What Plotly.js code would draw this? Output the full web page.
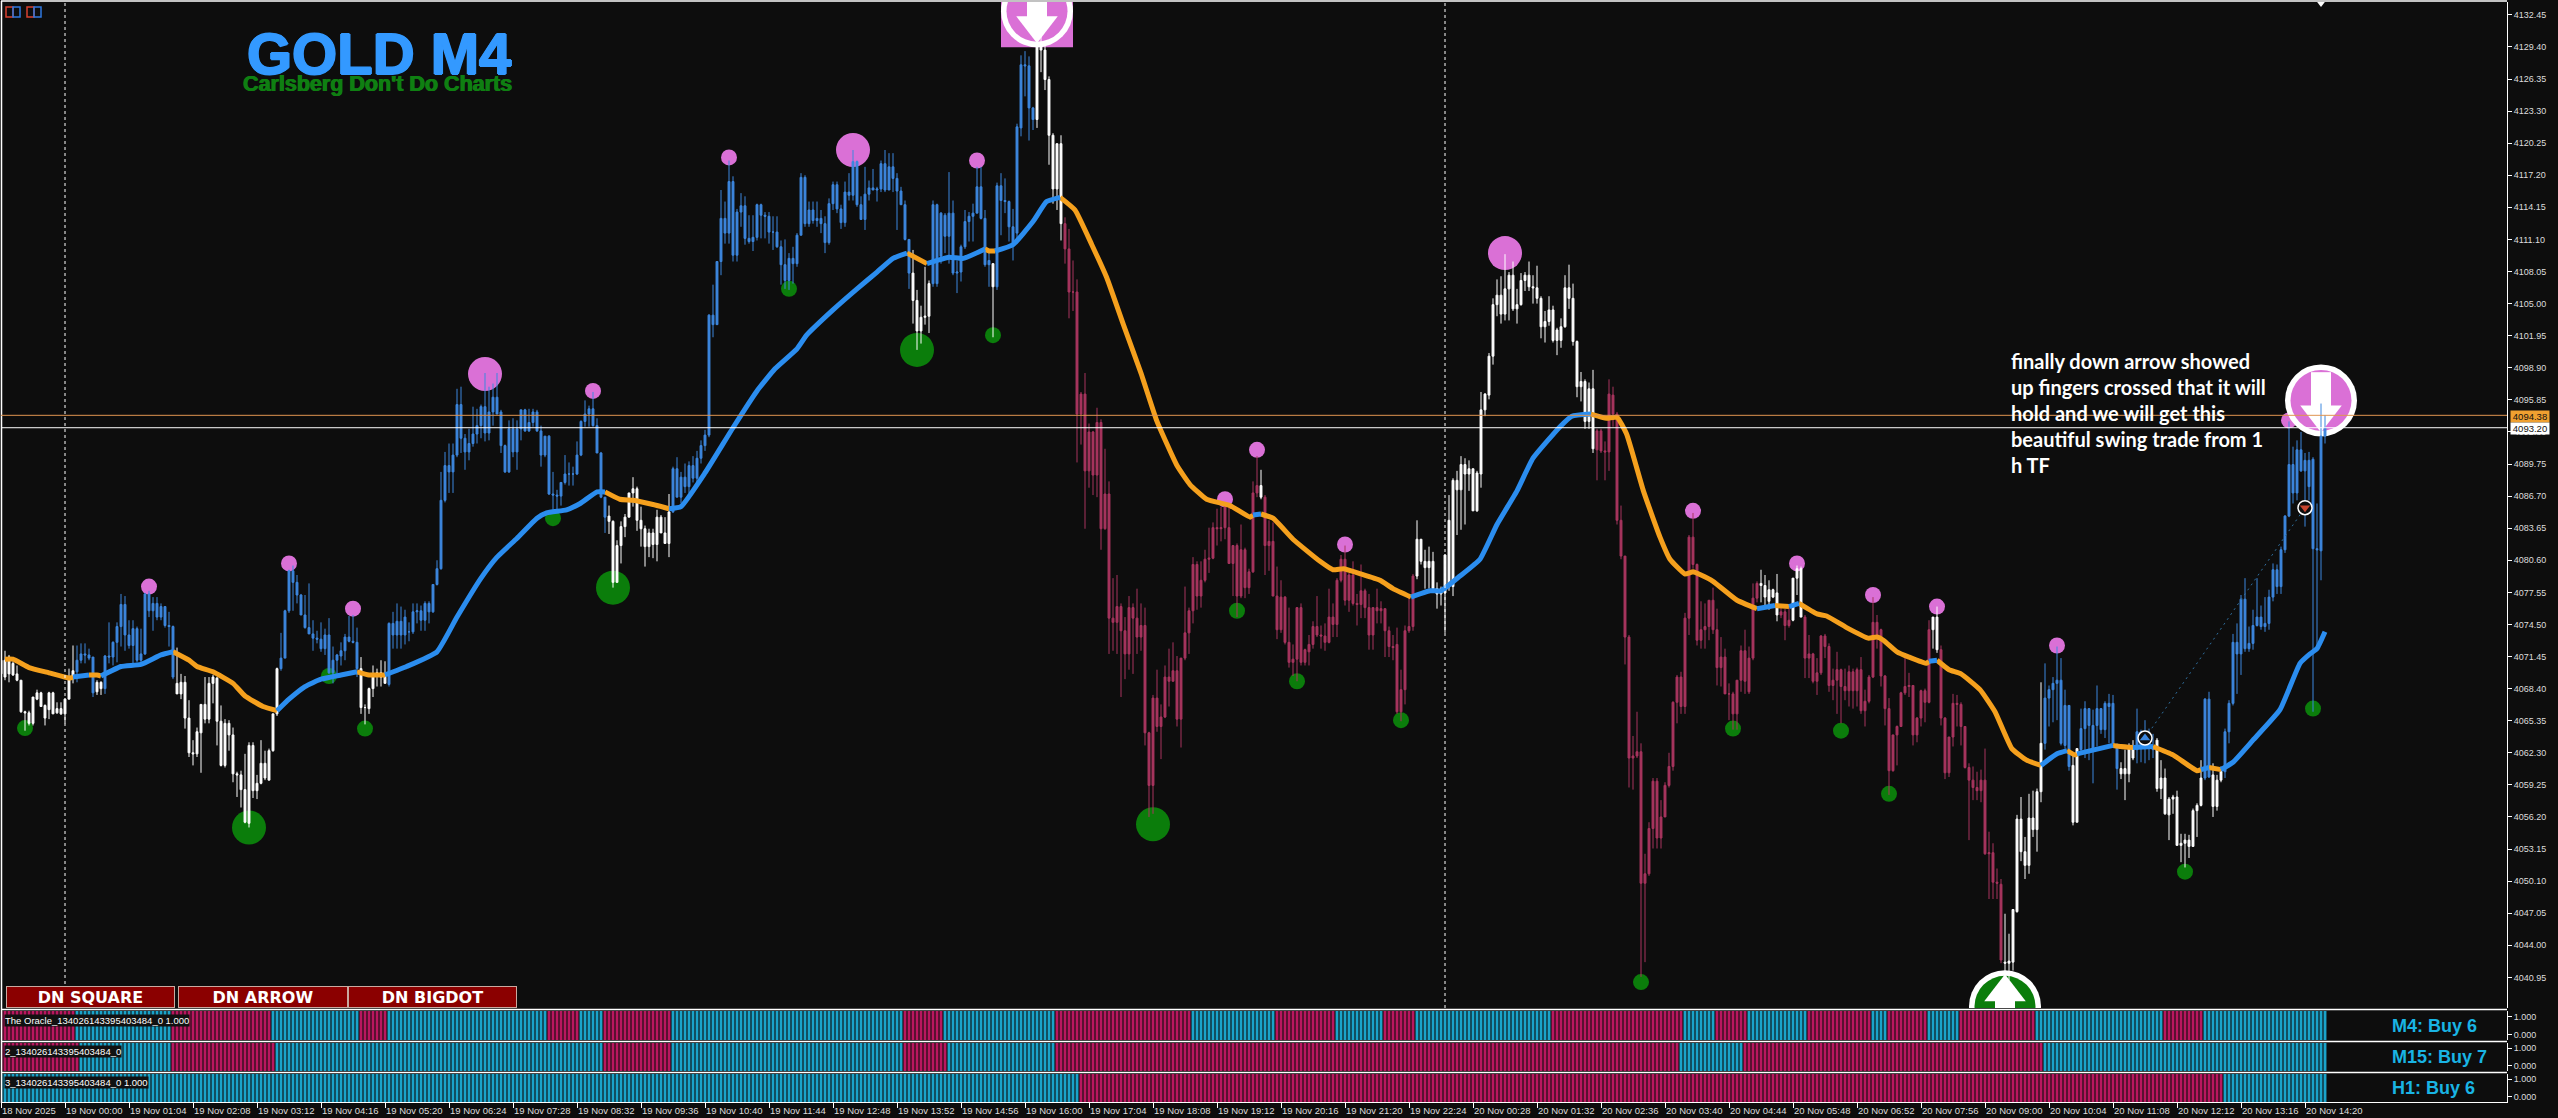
<!DOCTYPE html>
<html><head><meta charset="utf-8">
<script src="https://cdn.plot.ly/plotly-3.0.1.min.js"></script>
<style>html,body{margin:0;padding:0;background:#0d0d0d;overflow:hidden}</style>
</head><body><div id="chart" style="width:2558px;height:1118px"></div>
<script>
// ---- candle values: price minus priceBase, one line = 10 bars ----
const priceBase = 4000;
const openVals = [
69.8,71.1,69.8,70.8,69.8,69.2,66.2,66.1,65.1,67.4,
68.0,66.8,66.4,68.0,66.1,66.5,66.0,67.4,69.6,70.0,
71.1,71.7,71.6,71.4,68.1,69.0,68.4,71.5,71.4,72.8,
74.3,76.4,73.5,72.5,74.1,71.1,71.7,77.4,75.8,76.5,
75.2,76.2,74.4,74.3,68.9,67.9,69.0,65.6,62.3,62.2,
64.2,66.9,65.5,68.9,69.4,65.3,61.1,65.1,64.0,60.3,
60.2,58.8,55.6,63.0,58.7,59.4,61.3,59.7,62.5,66.0,
70.3,71.3,75.8,79.6,78.5,77.3,75.4,74.2,73.6,73.2,
73.1,72.2,73.5,69.9,71.1,71.5,72.0,73.3,72.9,72.8,
70.3,66.6,66.5,68.4,69.6,69.9,69.5,68.8,74.6,73.5,
74.8,73.5,73.8,73.8,75.7,75.8,74.9,76.5,75.7,78.3,
79.8,86.3,89.6,89.0,90.6,95.4,92.2,90.9,91.7,92.6,
93.4,95.2,92.7,94.7,96.1,94.7,91.5,89.0,93.1,90.9,
93.1,94.9,92.9,93.7,94.7,92.9,90.6,92.4,86.9,86.8,
86.7,88.0,88.8,88.8,88.8,90.6,93.8,94.5,95.0,93.4,
90.8,86.6,84.8,84.3,78.5,82.0,83.8,84.7,87.0,87.4,
84.4,83.6,81.9,83.2,82.1,84.7,83.2,82.2,85.2,89.3,
86.6,88.5,87.6,89.6,88.4,90.3,91.5,92.5,103.9,103.0,
109.0,113.1,111.7,116.6,109.6,113.7,114.3,111.2,110.9,111.3,
114.4,113.4,113.3,111.8,111.8,110.4,108.7,107.2,109.3,108.8,
111.5,117.0,112.6,113.9,112.9,113.1,112.6,110.8,114.5,116.3,
114.0,112.7,115.6,115.3,118.5,114.4,113.0,115.4,116.0,115.8,
115.9,118.3,115.8,118.0,116.9,115.7,114.4,111.1,107.9,105.3,
102.4,103.7,103.8,106.9,114.4,109.5,113.4,111.4,113.6,107.9,
108.0,110.4,112.8,113.3,113.6,116.1,113.1,108.7,108.8,106.6,
116.2,114.8,114.7,112.3,111.7,121.7,127.7,127.6,123.6,122.5,
129.4,129.1,126.3,121.0,115.9,120.2,112.6,110.2,106.1,106.1,
94.5,96.4,89.1,92.8,88.7,93.7,83.6,86.9,75.1,74.7,
76.2,73.9,71.7,76.1,75.1,73.3,74.4,64.2,59.2,67.5,
64.8,65.7,69.5,69.1,70.1,65.5,71.3,73.7,75.8,80.2,
77.2,78.7,80.7,80.8,83.7,83.6,83.7,83.7,80.3,82.0,
77.2,81.6,78.0,79.5,87.0,87.7,86.6,82.0,82.4,77.2,
74.0,77.1,72.8,70.9,71.2,76.1,70.9,71.9,72.6,74.3,
73.5,73.4,72.8,75.2,74.5,78.7,80.7,76.8,79.2,76.5,
76.4,77.7,76.1,73.5,76.1,75.8,76.0,73.9,72.4,72.6,
66.2,68.3,73.9,74.3,79.1,82.6,80.5,79.9,80.5,77.9,
77.4,77.5,78.1,78.1,88.2,87.3,89.7,88.8,89.3,85.3,
88.8,94.9,96.3,100.0,104.9,105.8,104.0,106.4,107.7,104.5,
104.9,107.2,107.7,106.6,106.5,105.5,102.8,103.3,104.4,101.5,
101.5,102.8,106.5,105.5,101.4,97.1,97.6,93.8,96.9,91.1,
92.9,91.0,90.9,96.3,94.5,84.4,81.0,73.3,61.8,62.0,
62.4,49.9,50.8,55.1,59.6,54.2,56.2,59.2,61.0,67.1,
69.5,66.7,75.1,82.8,80.2,73.0,74.0,74.3,76.8,74.0,
70.4,71.4,67.9,67.9,66.0,69.2,72.0,68.1,71.3,77.0,
78.4,78.2,76.7,77.8,77.5,75.4,75.7,74.4,74.9,78.9,
79.8,75.2,71.3,71.7,69.1,69.9,73.4,72.4,68.7,69.2,
70.2,68.6,68.2,70.0,68.2,70.2,66.3,67.2,69.5,74.7,
74.0,69.6,66.5,60.6,64.0,64.8,68.0,68.6,68.7,64.0,
65.6,68.2,67.1,74.0,75.2,72.1,65.6,60.4,63.8,67.0,
66.9,64.8,60.9,59.7,59.0,58.7,59.7,52.7,52.8,50.0,
49.8,42.4,42.3,42.4,47.2,56.0,52.9,51.6,56.1,55.0,
58.6,63.2,67.5,68.3,68.9,69.2,63.0,66.8,61.1,55.7,
62.6,64.6,66.5,64.9,64.9,66.5,64.5,67.0,67.0,63.0,
60.8,60.3,60.3,62.7,62.6,64.3,62.9,64.0,62.9,63.5,
58.9,59.9,56.4,57.9,58.1,53.5,53.7,54.0,53.4,56.8,
57.3,59.9,67.4,60.2,57.2,59.7,60.5,64.3,67.0,72.8,
71.7,76.9,72.2,72.7,74.4,75.2,74.3,74.6,77.1,79.7,
78.1,81.6,84.8,89.7,87.0,91.1,89.1,90.1,90.2,81.7,81.5,92.4];
const highVals = [
71.4,72.0,71.6,71.0,70.6,69.2,66.3,66.3,67.6,68.3,
68.1,66.9,68.1,68.1,67.1,67.1,67.5,70.3,72.5,72.5,
72.7,72.7,72.2,71.4,69.2,69.1,71.6,74.7,72.9,74.7,
77.4,77.2,74.9,74.9,74.3,74.1,77.5,77.7,77.1,77.1,
76.5,76.2,75.7,74.4,72.3,69.8,69.6,67.3,63.5,64.7,
66.9,69.5,69.5,69.7,69.5,66.8,65.5,65.4,64.7,60.5,
60.6,62.2,63.3,63.3,60.2,63.5,62.5,62.7,66.0,70.4,
73.7,75.9,79.7,80.1,79.2,77.4,77.3,78.4,74.9,73.9,
74.7,74.1,75.1,72.4,71.7,72.8,73.6,75.3,75.4,74.2,
71.4,66.9,68.5,70.6,70.3,71.1,71.0,74.7,75.7,76.5,
76.2,75.9,74.7,76.5,76.5,76.3,76.7,76.7,78.3,80.6,
89.0,90.9,91.7,91.7,96.9,97.1,92.6,93.1,95.2,95.0,
95.4,98.4,97.1,97.4,98.4,94.9,91.6,93.9,94.1,93.9,
94.9,95.0,95.0,95.0,94.9,93.4,92.4,92.5,89.0,87.3,
88.0,90.6,89.9,89.5,91.9,93.9,95.8,95.3,96.6,94.1,
90.9,86.6,85.8,84.4,82.5,84.3,85.0,87.0,88.5,87.6,
85.7,83.9,83.6,83.6,85.4,84.9,84.7,86.9,89.5,90.4,
89.0,89.8,90.0,90.5,91.0,92.0,93.0,104.0,106.8,109.0,
115.8,114.7,118.6,117.1,114.0,115.5,115.2,113.4,113.4,114.5,
114.5,113.7,113.7,113.3,113.3,111.0,111.1,109.8,110.4,111.7,
117.4,117.2,114.7,114.7,114.7,113.9,113.3,115.0,116.6,116.6,
114.4,116.6,117.4,119.6,118.6,115.2,118.0,116.7,117.8,116.1,
118.6,119.6,119.3,119.3,117.4,116.1,114.8,111.1,110.1,106.3,
104.8,108.5,107.2,114.8,114.5,113.7,113.6,117.5,114.8,109.1,
110.6,113.9,113.7,114.5,118.0,118.0,113.9,110.1,108.8,116.5,
117.4,116.9,114.8,114.0,122.1,128.6,129.0,128.5,123.7,130.7,
130.7,129.6,126.6,121.2,120.2,121.0,113.2,112.1,109.1,107.3,
96.6,98.4,93.6,92.9,95.1,94.0,91.2,88.1,78.9,79.2,
76.5,75.2,77.2,76.5,77.9,76.5,76.1,64.3,67.8,70.2,
66.9,70.6,72.2,72.8,71.5,71.3,78.1,76.1,80.9,80.5,
80.5,81.6,83.7,84.2,85.5,85.7,86.1,85.7,82.0,82.2,
84.0,81.8,79.8,88.1,90.5,89.2,86.8,84.4,84.2,80.0,
78.7,77.2,76.1,72.6,76.1,76.5,72.2,73.5,74.8,77.2,
74.4,74.6,77.9,76.5,78.9,81.1,82.0,79.4,80.5,77.4,
80.2,77.9,77.4,76.1,77.9,76.7,76.0,74.3,73.5,74.2,
70.2,74.4,77.2,79.3,84.4,82.6,81.6,81.9,81.4,78.5,
78.1,81.2,86.8,88.4,89.1,90.5,90.3,90.1,89.3,89.1,
96.6,96.5,100.3,105.5,107.3,107.6,109.7,108.0,109.0,106.4,
107.9,108.0,109.0,107.7,108.6,105.7,104.3,105.7,104.8,102.7,
103.6,107.7,108.7,106.9,101.5,98.5,97.8,97.5,98.7,93.1,
93.1,91.9,97.8,97.1,94.7,85.8,81.0,73.5,63.9,66.2,
63.2,52.7,55.7,59.9,59.9,57.8,59.5,62.3,67.2,69.7,
70.0,75.6,83.0,85.1,80.3,76.7,76.5,76.8,78.0,76.0,
73.3,72.2,68.9,68.1,69.2,72.5,74.0,72.4,78.4,78.6,
79.7,79.2,78.7,77.9,79.3,76.3,76.0,76.3,78.9,80.1,
80.0,75.4,73.5,71.8,71.3,73.5,73.6,72.7,70.3,71.9,
70.3,70.3,70.6,70.3,70.4,71.4,68.3,69.7,77.1,75.4,
74.1,69.7,67.5,64.0,64.9,68.1,71.3,69.9,68.7,65.7,
68.3,68.4,74.9,75.2,76.2,72.5,65.7,63.8,67.9,67.8,
67.1,64.8,61.3,61.0,60.5,60.7,62.7,54.8,53.7,51.3,
50.3,47.0,45.1,47.4,56.4,58.1,54.3,58.4,58.7,58.9,
69.0,70.8,68.7,69.5,72.4,71.3,68.3,66.8,62.1,62.7,
66.5,67.2,66.5,66.4,68.7,66.5,67.2,67.9,67.8,63.2,
61.4,62.6,63.2,63.5,66.5,64.5,65.4,64.6,64.1,63.7,
61.6,60.8,58.1,58.3,58.7,54.6,54.6,54.5,57.0,57.5,
61.6,67.5,68.1,61.3,60.2,61.0,64.6,67.3,73.6,74.6,
77.3,78.9,74.3,75.9,78.9,76.3,77.1,77.8,80.3,80.2,
81.9,84.9,93.8,91.4,92.0,92.8,90.8,90.9,90.4,86.0,95.5,94.4];
const lowVals = [
69.2,69.2,69.0,69.6,69.1,66.1,64.4,64.9,64.9,67.3,
66.7,64.9,65.5,66.0,66.0,65.9,65.1,67.4,68.9,69.0,
70.8,70.8,71.1,67.6,67.8,67.8,67.9,70.8,70.6,70.9,
72.4,72.0,72.2,70.8,70.9,70.9,71.6,75.2,73.9,74.9,
74.9,74.2,72.4,69.3,67.9,67.4,64.6,61.9,61.1,61.9,
60.4,65.1,65.1,67.0,63.0,61.0,60.9,62.5,59.5,58.1,
57.1,55.6,55.2,58.0,57.9,59.3,59.7,59.7,62.4,65.8,
70.1,71.3,75.6,75.8,76.5,75.4,74.1,73.6,72.0,72.7,
71.9,71.6,69.8,68.9,69.8,70.6,71.1,72.8,72.7,69.5,
66.0,65.0,66.0,67.6,68.6,68.6,68.9,68.6,72.2,72.2,
72.2,72.6,72.9,73.6,74.6,73.9,73.9,74.6,75.6,78.2,
79.7,86.1,87.0,87.0,90.4,90.8,89.2,90.1,91.4,91.7,
92.2,91.9,92.0,93.4,94.5,90.8,88.9,88.9,90.4,89.2,
92.0,92.8,92.8,93.3,92.8,89.5,90.4,86.8,85.4,85.4,
85.8,87.8,87.7,87.7,88.7,90.5,93.3,93.3,93.3,90.8,
86.5,83.2,83.1,78.0,78.5,80.3,82.8,84.7,85.7,83.4,
81.9,80.0,80.9,80.8,80.5,83.2,82.2,80.9,85.1,86.6,
86.0,87.0,87.0,88.0,88.0,89.8,91.0,92.3,101.8,103.0,
107.7,110.7,110.7,109.0,109.0,112.3,110.6,110.7,110.0,111.0,
111.2,111.2,110.7,110.1,110.3,106.8,106.4,106.3,106.9,108.5,
111.5,112.3,112.3,112.6,112.3,111.7,109.8,110.6,113.9,113.6,
112.1,112.3,114.8,114.8,114.2,113.0,112.0,114.8,115.8,114.7,
115.6,115.6,115.8,115.6,112.0,114.4,111.0,106.4,103.1,100.6,
101.2,103.0,102.2,106.6,106.6,108.8,109.8,108.8,107.7,106.0,
107.1,110.2,110.9,110.9,113.6,113.0,108.5,106.6,101.8,106.3,
111.5,113.6,110.9,109.1,111.0,120.9,124.7,120.5,121.5,121.7,
127.0,125.3,118.2,114.5,113.9,111.0,108.8,103.6,104.3,89.9,
91.6,83.6,87.5,86.8,86.6,81.6,83.5,71.7,72.0,71.7,
67.6,69.3,70.2,69.8,71.7,72.0,63.0,56.2,56.5,64.3,
61.7,65.6,66.7,69.1,64.8,62.8,71.1,71.7,74.6,75.9,
76.1,78.5,79.4,80.7,82.0,82.4,82.6,80.3,77.2,75.2,
77.0,77.0,77.4,79.4,86.6,86.4,79.2,79.6,77.2,73.1,
73.7,72.6,70.4,69.6,69.1,70.6,70.6,70.6,72.2,73.3,
72.2,72.0,72.7,73.3,73.3,78.5,76.3,75.7,76.3,74.4,
75.1,75.1,72.1,72.1,74.6,74.6,71.4,71.4,71.1,66.0,
65.3,66.9,73.7,73.9,78.8,80.2,77.9,77.9,77.7,76.0,
76.3,73.7,77.7,77.2,83.0,83.5,84.0,87.2,85.3,85.2,
87.5,94.3,95.9,99.2,103.8,103.1,103.4,103.4,104.3,103.1,
104.8,106.2,106.2,105.0,105.0,101.7,101.3,102.9,101.3,100.1,
100.8,102.7,104.5,101.0,96.1,95.7,93.1,93.1,90.8,88.2,
90.8,88.2,89.1,93.3,84.0,80.7,70.7,59.0,58.8,61.8,
41.0,42.4,50.6,53.2,53.2,53.2,56.2,59.0,60.6,65.1,
66.0,66.0,73.5,79.8,72.5,72.2,72.2,73.0,73.6,68.7,
68.6,67.9,65.4,64.5,64.5,68.1,67.9,67.9,71.1,76.6,
76.6,76.3,75.9,77.0,74.8,75.1,73.0,74.2,74.8,77.3,
75.2,69.4,69.4,68.9,67.8,69.7,71.3,68.1,67.3,66.0,
65.1,67.3,66.7,66.5,66.7,66.0,64.8,67.0,69.4,72.2,
68.6,64.9,58.3,60.5,61.1,64.8,67.8,67.6,63.0,63.3,
64.8,65.2,67.0,72.2,71.8,64.9,59.8,60.0,62.9,64.8,
63.0,60.8,54.0,57.8,57.8,57.6,52.6,48.4,48.4,48.4,
42.3,41.0,40.7,41.6,47.1,52.0,50.3,50.8,54.3,52.9,
57.6,62.6,64.8,65.2,65.4,63.0,62.7,60.6,55.4,55.7,
62.2,61.8,61.6,59.4,62.9,64.1,63.7,63.2,63.0,58.8,
59.8,57.8,59.5,61.6,61.3,61.4,61.3,61.6,61.8,58.6,
57.9,56.4,54.0,56.5,53.5,51.9,51.4,52.3,53.4,54.3,
57.2,59.7,59.9,56.2,56.8,59.5,59.9,63.2,66.8,67.9,
69.7,71.9,71.9,72.1,74.3,74.0,73.8,74.0,76.7,77.4,
77.4,81.3,84.7,86.0,86.3,89.0,83.8,86.3,66.2,72.2,78.7,91.7];
const closeVals = [
71.1,69.5,71.4,69.7,69.2,66.2,66.1,65.1,67.6,68.0,
66.7,65.6,68.0,66.0,66.5,66.0,67.4,69.5,70.1,71.1,
71.7,71.6,71.3,68.0,69.0,68.4,71.5,71.4,72.8,74.3,
76.4,73.5,72.5,74.1,71.1,71.7,77.4,75.8,76.5,75.2,
76.2,74.4,74.3,69.5,67.9,69.0,65.6,62.3,62.2,64.3,
66.9,65.5,68.9,69.5,65.3,61.1,65.1,64.0,60.3,60.2,
58.8,55.7,63.0,58.7,59.4,61.3,59.9,62.5,66.0,70.3,
71.3,75.8,79.6,78.5,77.3,75.4,74.2,73.6,73.2,73.1,
72.2,73.5,69.9,71.1,71.6,72.0,73.3,72.9,72.8,70.3,
66.6,66.6,68.4,69.6,69.9,69.5,68.9,74.6,73.5,74.8,
73.5,75.2,73.8,75.7,75.8,74.9,76.5,75.7,78.3,79.8,
86.3,89.6,89.0,90.6,95.4,92.2,90.9,91.7,92.6,93.4,
95.2,92.7,94.7,96.1,94.5,91.5,89.0,93.1,90.9,93.1,
94.9,92.9,93.7,94.7,92.9,90.6,92.4,86.9,86.8,86.7,
88.0,88.8,88.8,88.8,90.6,93.8,94.5,95.0,93.4,90.8,
86.6,84.7,84.3,78.5,82.0,83.8,84.7,87.0,87.4,84.4,
83.6,81.9,83.2,82.1,84.7,83.2,82.2,85.2,89.3,86.6,
88.5,87.6,89.6,88.4,90.3,91.5,92.5,103.9,103.0,109.0,
113.1,111.7,116.6,109.6,113.7,114.3,111.2,110.9,111.3,114.4,
113.4,113.3,111.8,111.8,110.4,108.7,107.2,109.3,108.8,111.5,
117.0,112.6,113.9,112.9,113.1,112.6,110.8,114.5,116.3,114.0,
112.7,115.6,115.3,118.5,114.4,113.0,115.4,116.0,115.8,115.9,
118.3,115.8,118.0,116.9,115.7,114.4,111.1,107.9,105.3,102.4,
103.7,103.8,106.9,114.4,106.9,113.6,111.4,113.6,107.9,108.0,
110.4,112.8,113.3,113.6,116.1,113.1,108.7,109.1,106.6,116.2,
114.8,114.7,112.3,110.6,121.8,127.7,127.6,123.6,122.5,129.4,
129.1,126.3,121.0,115.9,120.2,112.6,110.2,106.1,106.1,94.5,
96.4,89.1,92.8,88.7,93.7,83.6,86.9,75.1,74.7,76.2,
73.9,71.7,76.1,75.1,73.3,74.4,64.2,59.2,67.5,64.8,
65.7,69.5,69.1,70.1,65.5,71.3,73.7,75.8,80.2,77.2,
78.7,80.7,80.8,83.7,83.6,83.7,85.9,80.3,82.0,77.2,
81.6,78.0,79.5,87.0,87.7,86.6,82.0,82.4,77.2,74.0,
77.1,72.8,70.9,71.2,76.1,70.9,72.1,72.6,74.3,73.5,
73.4,72.8,75.2,74.5,78.7,80.7,76.8,79.2,76.5,76.4,
77.7,76.1,73.5,76.1,75.8,76.0,73.9,72.4,72.3,66.2,
68.3,73.9,74.3,79.1,82.6,80.5,79.9,80.5,77.9,77.4,
77.9,81.1,84.4,88.2,87.3,89.7,88.8,89.3,85.3,88.9,
94.9,96.4,100.0,104.9,105.8,104.0,106.4,107.7,104.5,104.9,
107.2,107.7,106.6,106.5,105.5,102.8,103.3,104.4,101.5,102.5,
102.8,106.5,105.5,101.4,97.1,97.6,93.8,96.9,91.2,92.9,
91.0,90.9,96.4,94.5,84.4,81.0,73.3,61.8,62.0,62.4,
49.9,50.8,55.1,59.6,54.2,56.2,59.2,61.0,67.1,69.5,
66.7,75.1,82.8,80.2,73.0,74.0,74.3,76.8,74.0,70.4,
71.4,67.9,67.9,66.0,69.2,72.0,69.1,71.3,77.0,78.4,
78.2,77.1,77.8,77.1,75.4,75.7,74.4,74.9,78.9,79.8,
75.2,71.3,71.7,69.1,69.9,73.4,72.4,68.7,69.2,70.2,
68.6,68.2,70.0,68.2,70.2,66.3,67.2,69.5,74.7,73.3,
69.6,66.5,60.6,64.0,64.8,68.0,68.6,68.7,64.0,65.6,
68.2,67.1,74.0,75.2,72.1,65.6,60.4,63.8,67.0,66.9,
64.8,60.9,59.7,59.0,58.7,59.7,52.7,52.8,50.0,49.9,
42.6,42.3,42.5,47.4,56.0,52.9,51.6,56.1,55.0,58.6,
63.2,67.5,68.3,68.9,69.2,63.2,66.8,61.0,55.7,62.7,
64.6,66.5,64.9,62.6,66.5,64.5,67.0,66.7,63.2,60.8,
60.3,60.8,62.7,61.8,64.3,62.9,64.0,62.9,62.6,58.9,
59.9,56.5,57.9,58.1,53.5,53.7,54.0,53.4,56.8,57.3,
59.9,67.4,60.0,57.2,59.7,60.5,64.3,67.0,72.8,71.7,
76.9,72.2,72.7,74.4,75.2,74.3,74.6,77.1,79.7,78.1,
81.6,84.8,89.7,87.0,91.1,89.1,90.1,87.6,81.7,81.6,92.4,93.2];

// candle colour runs
const candleRunKinds = ['w','b','w','b','w','b','w','b','w','b','w','b','w','b','w','c','w','c','w','c','w','c','w','c','w','c','w','b','w','b','w','b','w','b','w','b'];
const candleRunLens  = [19,5,2,18,26,20,7,55,16,60,5,15,1,10,7,49,1,38,45,41,5,3,3,32,2,16,10,7,2,10,4,5,12,2,3,26];

// moving-average line, read at knots, split by colour (offset from priceBase)
const maBlueBars = [18,22,null,25,30,35,40,43,null,69,72,76,80,85,89,null,96,101.4,109,114,120,124,129,134,136.4,141.4,144.8,149,151,null,167,170,176,183,189,193.5,199,201.4,208,214,219,223,226.5,null,231.5,237,240.6,246,null,248.5,253,258,261.4,264.8,null,313,315,null,352.5,357.25,360,364.75,369.75,374,379,383,389.75,392.7,397.5,null,439,443.5,null,447,449.5,null,482,484,null,510,514,516.5,null,519,528,null,533,538,null,550,552,null,555,558,563,569.75,574.75,577.25,579,581];
const maBlueVals = [69.5,69.7,null,69.6,70.5,70.7,71.6,71.9,null,66.3,67.4,68.6,69.3,69.7,70.0,null,69.7,70.5,71.9,75.2,78.9,80.9,82.7,84.6,85.1,85.4,86.0,87.1,87.1,null,85.5,85.7,88.9,93.2,96.7,98.8,100.7,102.0,104.4,106.4,108.0,109.3,109.8,null,108.8,109.4,109.3,110.2,null,110.0,110.6,112.8,114.7,115.1,null,84.9,85.0,null,77.1,77.7,77.7,79.1,80.7,84.0,87.2,90.3,93.3,94.3,94.5,null,76.0,76.3,null,76.2,76.5,null,71.0,71.1,null,61.1,62.2,62.5,null,62.2,63.0,null,62.8,62.9,null,60.7,60.9,null,60.7,61.4,63.5,66.4,70.8,71.7,72.2,73.8];
const maOrangeBars = [1,3,7,12,17,18,null,22,24,25,null,43,47,49,53,58,61,65.5,69,null,89,92,96,null,151,154.7,158,163,167,null,226.5,231.5,null,246,247,248.5,null,264.8,268.5,272.7,276.4,280.6,285,289,294,297.25,301.4,307.25,312.25,313,null,315,318,323,329.75,333,335.6,340,344.75,348,352.5,null,397.5,401.4,404,406.4,410.6,414.75,417.25,421,423,425,428,434,439,null,443.5,447,null,449.5,454,456.4,461.4,466.8,469,470.6,474,477,481.4,482,null,484,487,490,494.75,498.5,502.7,506.4,510,null,516.5,518.5,519,null,528,530,533,null,538,543,549,550,null,552,555];
const maOrangeVals = [71.2,71.2,70.4,69.9,69.4,69.5,null,69.7,69.7,69.6,null,71.9,71.1,70.5,70.0,68.9,67.7,66.7,66.3,null,70.0,69.7,69.7,null,87.1,86.4,86.3,85.9,85.5,null,109.8,108.8,null,110.2,110.0,110.0,null,115.1,113.9,110.6,107.5,103.0,98.4,93.8,89.6,87.8,86.4,85.8,84.7,84.9,null,85.0,84.6,82.6,80.5,79.7,79.8,79.3,78.7,77.9,77.1,null,94.5,94.1,94.2,92.6,87.2,82.8,80.7,79.3,79.5,79.2,78.6,76.8,76.0,null,76.3,76.2,null,76.5,75.5,75.3,74.2,73.2,73.3,73.0,71.9,71.4,70.8,71.0,null,71.1,70.2,69.8,68.3,66.2,62.7,61.6,61.1,null,62.5,62.1,62.2,null,63.0,62.9,62.8,null,62.9,62.1,60.6,60.7,null,60.9,60.7];

// signal dots
const pinkSmallBars = [37,72,88,148,182,244,306,314,336,423,449,468,484,514,572];
const pinkSmallVals = [78.1,80.3,76.0,96.7,118.9,118.6,86.4,91.1,82.1,85.3,80.3,77.3,76.2,72.5,93.9];
const pinkBigBars = [121,213,376];
const pinkBigVals = [98.3,119.6,109.8];
const greenSmallBars = [6,82,91,138,197,248,309,324,350,410,433,460,472,546,578];
const greenSmallVals = [64.65,69.6,64.6,84.6,106.4,102.0,75.8,69.1,65.4,40.5,64.6,64.4,58.4,51.0,66.5];
const greenBigBars = [62,153,229,288];
const greenBigVals = [55.2,78.0,100.6,55.5];
// arrow signals
const downArrowBars = [259,580];
const downArrowVals = [132.8,95.8];
const upArrowBars = [501];
const upArrowVals = [38.2];
const squareBars = [259];
const squareVals = [132.8];
// trade markers
const tradeBars = [536,576];
const tradeVals = [63.7,85.6];
// oscillator panes
const pane1Kinds = ['c','b','c','b','c','b','c','b','c','b','c','b','c','b','c','b','c','b','c','b','c','b','c','b','c','b','c','b','c','b'];
const pane1Lens  = [19,24,25,22,7,40,8,6,17,58,10,28,34,21,15,12,8,34,33,8,8,15,16,4,10,8,19,32,10,31];
const pane2Kinds = ['c','b','c','b','c','b','c','b','c','b','c','b'];
const pane2Lens  = [20,23,26,82,17,58,11,27,156,16,75,71];
const pane3Kinds = ['b','c','b'];
const pane3Lens  = [270,286,26];
// axes
const timeLabels = ['18 Nov 2025','19 Nov 00:00','19 Nov 01:04','19 Nov 02:08','19 Nov 03:12','19 Nov 04:16','19 Nov 05:20','19 Nov 06:24','19 Nov 07:28','19 Nov 08:32','19 Nov 09:36','19 Nov 10:40','19 Nov 11:44','19 Nov 12:48','19 Nov 13:52','19 Nov 14:56','19 Nov 16:00','19 Nov 17:04','19 Nov 18:08','19 Nov 19:12','19 Nov 20:16','19 Nov 21:20','19 Nov 22:24','20 Nov 00:28','20 Nov 01:32','20 Nov 02:36','20 Nov 03:40','20 Nov 04:44','20 Nov 05:48','20 Nov 06:52','20 Nov 07:56','20 Nov 09:00','20 Nov 10:04','20 Nov 11:08','20 Nov 12:12','20 Nov 13:16','20 Nov 14:20'];
const priceTicks = [4040.95,4044.00,4047.05,4050.10,4053.15,4056.20,4059.25,4062.30,4065.35,4068.40,4071.45,4074.50,4077.55,4080.60,4083.65,4086.70,4089.75,4092.80,4095.85,4098.90,4101.95,4105.00,4108.05,4111.10,4114.15,4117.20,4120.25,4123.30,4126.35,4129.40,4132.45];
const askPrice = 4094.38, bidPrice = 4093.20;
const sessionLines = [16,361];
const noteLines = ['finally down arrow showed','up fingers crossed that it will','hold and we will get this','beautiful swing trade from 1','h TF'];
const buttons = ['DN SQUARE','DN ARROW','DN BIGDOT'];
const paneNames = ['The Oracle_134026143395403484_0 1.000','2_134026143395403484_0','3_134026143395403484_0 1.000'];
const tfLabels = ['M4: Buy 6','M15: Buy 7','H1: Buy 6'];

// ---- build ----
const W=2558,H=1118,L=1,R=2507,T=2,B=1103;
const P=v=>v==null?null:v+priceBase;
const PPX=0.09506; // price per pixel
const yRange=[4038.04,4133.67];
const px=x=>(x-L)/(R-L), py=y=>(B-y)/(B-T);
const expand=(k,l)=>{const o=[];k.forEach((c,i)=>{for(let j=0;j<l[i];j++)o.push(c)});return o};
const kinds=expand(candleRunKinds,candleRunLens);
const BLUE='#3d87de',CRIM='#a8355f',GRN='#0b7d0b',PINK='#da70d6';
const traces=[];
// dots & arrows beneath the candles, on main axis
const dot=(b,v,c,s)=>traces.push({type:'scatter',mode:'markers',x:b,y:v.map(P),marker:{color:c,size:s,line:{width:0}},hoverinfo:'skip'});
dot(pinkSmallBars,pinkSmallVals,PINK,16);
dot(pinkBigBars,pinkBigVals,PINK,34);
dot(greenSmallBars,greenSmallVals,GRN,16);
dot(greenBigBars,greenBigVals,GRN,34);
traces.push({type:'scatter',mode:'markers',x:squareBars,y:squareVals.map(P),marker:{symbol:'square',color:PINK,size:72,line:{width:0}},hoverinfo:'skip'});
function bigArrow(bars,vals,fill,dir){
  const y=vals.map(P);
  const off=p=>y.map(v=>v+dir*p*PPX);
  traces.push({type:'scatter',mode:'markers',x:bars,y:y,marker:{color:'#ffffff',size:72,line:{width:0}},hoverinfo:'skip'});
  traces.push({type:'scatter',mode:'markers',x:bars,y:y,marker:{color:fill,size:61,line:{width:0}},hoverinfo:'skip'});
  traces.push({type:'scatter',mode:'markers',x:bars,y:off(10),marker:{symbol:'line-ns',size:26,line:{width:20,color:'#ffffff'}},hoverinfo:'skip'});
  traces.push({type:'scatter',mode:'markers',x:bars,y:off(-14),marker:{symbol:dir>0?'triangle-down':'triangle-up',size:36,color:'#ffffff',line:{width:0}},hoverinfo:'skip'});
}
bigArrow(downArrowBars,downArrowVals,PINK,1);
bigArrow(upArrowBars,upArrowVals,GRN,-1);
// thin marker at the very top right
traces.push({type:'scatter',mode:'markers',x:[580],y:[4133.67],marker:{symbol:'triangle-down',size:10,color:'#ffffff',line:{width:0}},hoverinfo:'skip'});
// candles on overlay axis
[['w','#ffffff'],['b',BLUE],['c',CRIM]].forEach(([k,c])=>{
  const idx=[];kinds.forEach((q,i)=>{if(q===k)idx.push(i)});
  traces.push({type:'candlestick',xaxis:'x',yaxis:'y5',x:idx,
    open:idx.map(i=>P(openVals[i])),high:idx.map(i=>P(highVals[i])),low:idx.map(i=>P(lowVals[i])),close:idx.map(i=>P(closeVals[i])),
    increasing:{line:{color:c,width:1},fillcolor:c},decreasing:{line:{color:c,width:1},fillcolor:c},whiskerwidth:0,hoverinfo:'skip',showlegend:false});
});
// MA lines
traces.push({type:'scatter',mode:'lines',xaxis:'x',yaxis:'y5',x:maOrangeBars,y:maOrangeVals.map(P),line:{color:'#f5a01d',width:5,shape:'spline',smoothing:0.4},connectgaps:false,hoverinfo:'skip'});
traces.push({type:'scatter',mode:'lines',xaxis:'x',yaxis:'y5',x:maBlueBars,y:maBlueVals.map(P),line:{color:'#2b8def',width:5,shape:'spline',smoothing:0.4},connectgaps:false,hoverinfo:'skip'});
// trade markers and the dotted link
traces.push({type:'scatter',mode:'lines',xaxis:'x',yaxis:'y5',x:tradeBars,y:tradeVals.map(P),line:{color:'#2f6f9f',width:1,dash:'2px,4px'},hoverinfo:'skip'});
traces.push({type:'scatter',mode:'markers',xaxis:'x',yaxis:'y5',x:tradeBars,y:tradeVals.map(P),marker:{color:'#0d0d0d',size:14,line:{color:'#ffffff',width:1.5}},hoverinfo:'skip'});
traces.push({type:'scatter',mode:'markers',xaxis:'x',yaxis:'y5',x:[tradeBars[0]],y:[P(tradeVals[0])],marker:{symbol:'triangle-up',color:'#3d87de',size:9,line:{width:0}},hoverinfo:'skip'});
traces.push({type:'scatter',mode:'markers',xaxis:'x',yaxis:'y5',x:[tradeBars[1]],y:[P(tradeVals[1])],marker:{symbol:'triangle-down',color:'#c8452f',size:9,line:{width:0}},hoverinfo:'skip'});
// panes
[[pane1Kinds,pane1Lens,'y2'],[pane2Kinds,pane2Lens,'y3'],[pane3Kinds,pane3Lens,'y4']].forEach(([k,l,ax])=>{
  const e=expand(k,l);
  traces.push({type:'bar',xaxis:'x',yaxis:ax,x:e.map((_,i)=>i),y:e.map(()=>1.6),base:-0.3,width:0.72,
    marker:{color:e.map(c=>c==='c'?'#b9175f':'#1aa3c9'),line:{width:0}},hoverinfo:'skip'});
});

const shapes=[], annotations=[];
const hline=(y,c)=>shapes.push({type:'line',xref:'paper',x0:0,x1:1,yref:'paper',y0:py(y),y1:py(y),line:{color:c,width:1.5}});
const vline=(x,y0,y1)=>shapes.push({type:'line',xref:'paper',x0:px(x),x1:px(x),yref:'paper',y0:py(y0),y1:py(y1),line:{color:'#ffffff',width:1.5}});
[1,1009.5,1041.5,1072.5].forEach(y=>hline(y,'#ffffff'));
vline(1.5,1,1103);
sessionLines.forEach(b=>shapes.push({type:'line',xref:'x',x0:b,x1:b,yref:'paper',y0:py(1008),y1:1,line:{color:'#ffffff',width:1,dash:'3px,3px'}}));
shapes.push({type:'line',xref:'paper',x0:0,x1:1,yref:'y',y0:askPrice,y1:askPrice,line:{color:'#e09550',width:1}});
shapes.push({type:'line',xref:'paper',x0:0,x1:1,yref:'y',y0:bidPrice,y1:bidPrice,line:{color:'#ffffff',width:1}});
// top-left toolbar icons
[6,27].forEach(x=>{
  shapes.push({type:'rect',xref:'paper',yref:'paper',x0:px(x),x1:px(x+7),y0:py(7),y1:py(17),line:{color:'#d8402f',width:1.5},fillcolor:'rgba(0,0,0,0)'});
  shapes.push({type:'rect',xref:'paper',yref:'paper',x0:px(x+7),x1:px(x+14),y0:py(7),y1:py(17),line:{color:'#2f78e0',width:1.5},fillcolor:'rgba(0,0,0,0)'});
});
const ann=(x,y,text,font,o)=>annotations.push(Object.assign({xref:'paper',yref:'paper',x:px(x),y:py(y),text,font,showarrow:false,xanchor:'left',yanchor:'middle',align:'left',borderpad:0},o||{}));
const LS='Liberation Sans';
const heavy=c=>`1px 0 0 ${c},-1px 0 0 ${c},0 1px 0 ${c},0 -1px 0 ${c}`;
ann(246,53,'<b>GOLD M4</b>',{family:LS,size:58,color:'#3399ff',shadow:heavy('#3399ff')});
ann(242,84,'<b>Carlsberg Don\'t Do Charts</b>',{family:LS,size:21.5,color:'#0f7f12',shadow:'0.6px 0 0 #0f7f12,-0.6px 0 0 #0f7f12'});
const noteY=[361,387,413,439,465];
noteLines.forEach((t,i)=>ann(2010,noteY[i],'<b>'+t+'</b>',{family:'Lato',size:20,color:'#ffffff'}));
[[6,167],[178,168],[348,167]].forEach(([x,w],i)=>ann(x,997,'<b>'+buttons[i]+'</b>',{family:'DejaVu Sans',size:16,color:'#ffffff'},{width:w,height:20,align:'center',bgcolor:'#8b0000',bordercolor:'#c9a9a0',borderwidth:1}));
[1020,1051,1082].forEach((y,i)=>ann(4,y,paneNames[i],{family:LS,size:9.5,color:'#ffffff'},{bgcolor:'#111111'}));
[1026,1057,1088].forEach((y,i)=>ann(2391,y,'<b>'+tfLabels[i]+'</b>',{family:LS,size:18,color:'#19b4e4'}));
ann(2510,416,askPrice.toFixed(2),{family:LS,size:9.5,color:'#111111'},{bgcolor:'#f0a030',width:38,height:11,align:'center'});
ann(2510,428,bidPrice.toFixed(2),{family:LS,size:9.5,color:'#111111'},{bgcolor:'#ffffff',width:38,height:11,align:'center'});

const tf={family:LS,size:9,color:'#dddddd'};
const paneAxis=(d0,d1)=>({domain:[py(d1),py(d0)],range:[-0.3,1.3],anchor:'x',side:'right',tickmode:'array',tickvals:[0,1],ticktext:['0.000','1.000'],tickfont:tf,ticks:'outside',ticklen:4,tickcolor:'#ffffff',showline:true,linecolor:'#ffffff',linewidth:1,showgrid:false,zeroline:false,fixedrange:true});
const layout={
  width:W,height:H,margin:{l:L,r:W-R,t:T,b:H-B,pad:0},
  paper_bgcolor:'#0d0d0d',plot_bgcolor:'#0d0d0d',showlegend:false,hovermode:false,
  boxmode:'overlay',boxgap:0.32,barmode:'overlay',
  xaxis:{anchor:'y4',range:[0,626.5],rangeslider:{visible:false},tickmode:'array',tickvals:timeLabels.map((_,i)=>i*16),ticktext:timeLabels,
    tickfont:{family:LS,size:9.5,color:'#dddddd'},ticklabelposition:'outside right',ticks:'outside',ticklen:5,tickcolor:'#ffffff',tickangle:0,showline:true,linecolor:'#ffffff',linewidth:1,showgrid:false,zeroline:false,fixedrange:true},
  yaxis:{domain:[py(1008),1],range:yRange,anchor:'x',side:'right',tickmode:'array',tickvals:priceTicks,ticktext:priceTicks.map(v=>v.toFixed(2)),tickfont:tf,ticks:'outside',ticklen:4,tickcolor:'#ffffff',showline:true,linecolor:'#ffffff',linewidth:1,showgrid:false,zeroline:false,fixedrange:true},
  yaxis2:paneAxis(1011,1040),
  yaxis3:paneAxis(1043,1071),
  yaxis4:paneAxis(1074,1102),
  yaxis5:{overlaying:'y',range:yRange,side:'right',visible:false,fixedrange:true},
  shapes,annotations
};
Plotly.newPlot('chart',traces,layout,{displayModeBar:false,staticPlot:true});
</script></body></html>
